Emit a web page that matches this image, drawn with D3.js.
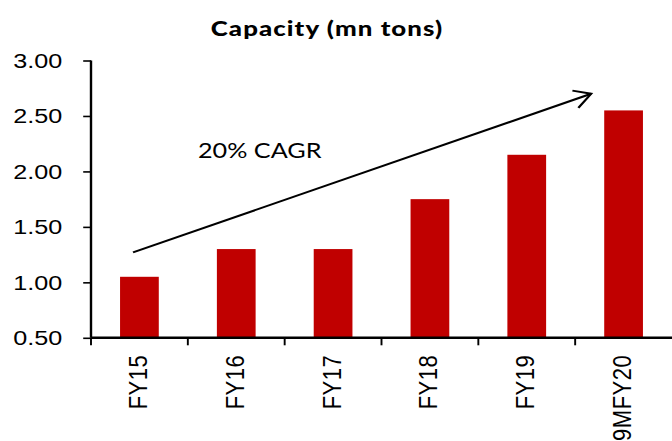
<!DOCTYPE html>
<html>
<head>
<meta charset="utf-8">
<script src="https://cdn.jsdelivr.net/npm/d3@7"></script>
<style>
  html, body { margin: 0; padding: 0; background: #fff; }
  svg { display: block; }
</style>
</head>
<body>
<div id="chart"></div>
<script>
// Capacity by fiscal year (mn tons)
const categories = ["FY15", "FY16", "FY17", "FY18", "FY19", "9MFY20"];
const capacity = [1.05, 1.30, 1.30, 1.75, 2.15, 2.55];
const yTicks = [0.5, 1.0, 1.5, 2.0, 2.5, 3.0];
const title = "Capacity (mn tons)";
const cagrLabel = "20% CAGR";
// Trend arrow endpoints: [position in category steps from the left axis, value]
const trendArrow = [[0.434, 1.27], [5.165, 2.70]];

const W = 672, H = 441;
const stretch = 1.2;               // the chart is drawn horizontally widened
const innerW = W / stretch;

const svg = d3.select("#chart").append("svg")
  .attr("width", W).attr("height", H);

const g = svg.append("g").attr("transform", `scale(${stretch},1)`);

const left = 91 / stretch, right = innerW;
const x = d3.scaleBand().domain(categories).range([left, right]).paddingInner(0.6).paddingOuter(0.3);
const xStep = d3.scaleLinear().domain([0, categories.length]).range([left, right]);
const y = d3.scaleLinear().domain([0.5, 3.0]).range([337.8, 60.5]);

// bars
g.selectAll("rect.bar").data(capacity).join("rect")
  .attr("class", "bar")
  .attr("x", (d, i) => x(categories[i]))
  .attr("width", x.bandwidth())
  .attr("y", d => y(d))
  .attr("height", d => y(0.5) - y(d))
  .attr("fill", "#C00000");

// y axis
const yAxis = d3.axisLeft(y).tickValues(yTicks).tickFormat(d3.format(".2f"))
  .tickSize(6.5).tickPadding(17.5);
const yg = g.append("g").attr("transform", `translate(${left},0)`).call(yAxis);
yg.select(".domain").attr("stroke", "#000").attr("stroke-width", 2)
  .attr("d", `M0,${y(3.0)}V${y(0.5)}`);
yg.selectAll(".tick line").attr("stroke", "#000").attr("stroke-width", 1.6);
yg.selectAll(".tick text")
  .attr("font-family", "'Liberation Sans', Arial, sans-serif")
  .attr("font-size", 21).attr("fill", "#000");

// x axis: line with ticks between categories
const xg = g.append("g").attr("transform", `translate(0,${y(0.5)})`);
xg.append("line").attr("x1", left).attr("x2", right)
  .attr("stroke", "#000").attr("stroke-width", 2.4);
const boundaries = d3.range(categories.length);
xg.selectAll("line.tick").data(boundaries).join("line")
  .attr("class", "tick")
  .attr("x1", d => xStep(d)).attr("x2", d => xStep(d))
  .attr("y1", 0).attr("y2", 7.5)
  .attr("stroke", "#000").attr("stroke-width", 1.6);
xg.selectAll("text").data(categories).join("text")
  .attr("transform", d => `translate(${x(d) + x.bandwidth() / 2 - 1.2},17) rotate(-90)`)
  .attr("text-anchor", "end")
  .attr("dy", "0.34em")
  .attr("font-family", "'Liberation Sans', Arial, sans-serif")
  .attr("font-size", 22)
  .attr("letter-spacing", 0.5)
  .attr("fill", "#000")
  .text(d => d);

// title
g.append("text")
  .attr("x", 327 / stretch).attr("y", 36.5)
  .attr("text-anchor", "middle")
  .attr("font-family", "Lato, 'Noto Sans', sans-serif")
  .attr("font-weight", 900)
  .attr("font-size", 21.5)
  .attr("letter-spacing", 0.9)
  .attr("fill", "#000")
  .text(title);

// trend arrow
const p0 = [xStep(trendArrow[0][0]), y(trendArrow[0][1])];
const p1 = [xStep(trendArrow[1][0]), y(trendArrow[1][1])];
g.append("line")
  .attr("x1", p0[0]).attr("y1", p0[1]).attr("x2", p1[0]).attr("y2", p1[1])
  .attr("stroke", "#000").attr("stroke-width", 2);
// open arrow head, drawn in screen proportions
const sx = p1[0] * stretch, sy = p1[1];
const ang = Math.atan2(sy - p0[1], sx - p0[0] * stretch);
const headLen = 19, headAng = 0.5;
const arms = [ang + Math.PI - headAng, ang + Math.PI + headAng].map(a =>
  [(sx + headLen * Math.cos(a)) / stretch, sy + headLen * Math.sin(a)]);
g.append("path")
  .attr("d", `M${arms[0][0]},${arms[0][1]}L${p1[0]},${p1[1]}L${arms[1][0]},${arms[1][1]}`)
  .attr("fill", "none").attr("stroke", "#000").attr("stroke-width", 2)
  .attr("stroke-linejoin", "miter");

// CAGR label
g.append("text")
  .attr("x", 198 / stretch).attr("y", 158.3)
  .attr("font-family", "Lato, 'Noto Sans', sans-serif")
  .attr("font-size", 21)
  .attr("fill", "#000")
  .text(cagrLabel);
</script>
</body>
</html>
